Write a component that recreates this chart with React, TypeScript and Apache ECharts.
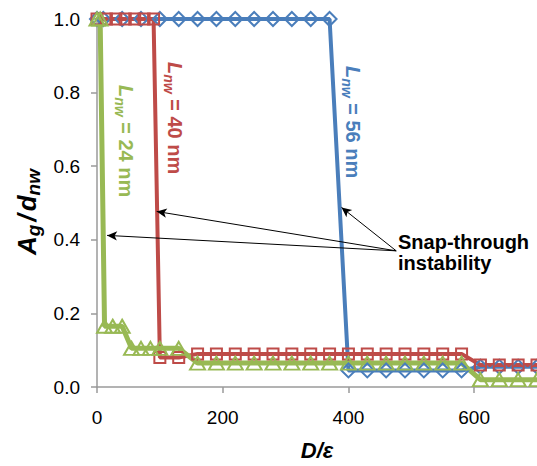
import React, { useEffect, useRef } from "react";
import * as echarts from "echarts";

// ---- data ----
const blueX = [0, 10, 40, 70, 100, 130, 160, 190, 220, 250, 280, 310, 340, 370, 400, 430, 460, 490, 520, 550, 580, 610, 640, 670, 700];
const blueY = [1, 1, 1, 1, 1, 1, 1, 1, 1, 1, 1, 1, 1, 1, 0.045, 0.045, 0.045, 0.045, 0.045, 0.045, 0.045, 0.055, 0.055, 0.055, 0.055];

const redX = [0, 15, 30, 45, 60, 75, 90, 100, 130, 160, 190, 220, 250, 280, 310, 340, 370, 400, 430, 460, 490, 520, 550, 580, 610, 640, 670, 700];
const redY = [1, 1, 1, 1, 1, 1, 1, 0.08, 0.08, 0.09, 0.09, 0.09, 0.09, 0.09, 0.09, 0.09, 0.09, 0.09, 0.09, 0.09, 0.09, 0.09, 0.09, 0.09, 0.06, 0.06, 0.06, 0.06];

const greenX = [0, 5, 12, 25, 40, 55, 70, 85, 100, 130, 160, 190, 220, 250, 280, 310, 340, 370, 400, 430, 460, 490, 520, 550, 580, 610, 640, 670, 700];
const greenY = [1, 1, 0.165, 0.165, 0.165, 0.105, 0.105, 0.105, 0.105, 0.105, 0.065, 0.065, 0.065, 0.065, 0.065, 0.065, 0.065, 0.065, 0.065, 0.065, 0.065, 0.065, 0.065, 0.065, 0.065, 0.02, 0.02, 0.02, 0.02];

const xTicks = [0, 200, 400, 600];
const yTicks = [0, 0.2, 0.4, 0.6, 0.8, 1.0];

// arrow annotations (data coordinates)
const arrowFrom = [476, 0.37];
const arrowTo = [
  [16, 0.412],
  [95, 0.477],
  [389, 0.488],
];

const seriesNames = ["Lnw = 56 nm", "Lnw = 40 nm", "Lnw = 24 nm"];
const annoNumbers = ["56", "40", "24"];

const BLUE = "#4A7EBB";
const RED = "#BE4B48";
const GREEN = "#98B954";
const FONT = '"Liberation Sans", Arial, Helvetica, sans-serif';

function zip(xs: number[], ys: number[]) {
  return xs.map((x, i) => [x, ys[i]]);
}

function annoRich(color: string) {
  return {
    l: { fontSize: 20, fontWeight: "bold", fontStyle: "italic", fill: color, fontFamily: FONT, verticalAlign: "top", lineHeight: 22 },
    s: { fontSize: 14, fontWeight: "bold", fontStyle: "italic", fill: color, fontFamily: FONT, verticalAlign: "top", lineHeight: 15, padding: [9, 0, 0, 0] },
    n: { fontSize: 20, fontWeight: "bold", fill: color, fontFamily: FONT, verticalAlign: "top", lineHeight: 22 },
  };
}

function annoText(num: string, color: string, x: number, y: number) {
  return {
    type: "text",
    x,
    y,
    rotation: -Math.PI / 2,
    silent: true,
    style: {
      text: `{l|L}{s|nw}{n| = ${num} nm}`,
      rich: annoRich(color),
      fill: color,
      align: "left",
      verticalAlign: "top",
      fontFamily: FONT,
    },
  };
}

export default function App() {
  const ref = useRef<HTMLDivElement>(null);

  useEffect(() => {
    document.body.style.margin = "0";
    if (!ref.current) return;
    const chart = echarts.init(ref.current, undefined, { renderer: "svg" });

    const axisColor = "#9a9a9a";

    const option: any = {
      animation: false,
      backgroundColor: "#ffffff",
      grid: { left: 97, right: 0, top: 19, bottom: 78, containLabel: false },
      xAxis: {
        type: "value",
        min: 0,
        max: 700,
        interval: 200,
        name: "{i|D}{i|/}{i|ε}",
        nameLocation: "middle",
        nameGap: 52,
        nameTextStyle: {
          rich: {
            i: { fontSize: 22, fontWeight: "bold", fontStyle: "italic", color: "#000", fontFamily: FONT },
          },
        },
        axisLine: { show: true, lineStyle: { color: axisColor, width: 1.5 } },
        axisTick: { show: true, inside: false, length: 6, lineStyle: { color: axisColor, width: 1.5 } },
        splitLine: { show: false },
        axisLabel: {
          show: true,
          color: "#000",
          fontSize: 19,
          fontFamily: FONT,
          margin: 21,
          showMaxLabel: false,
          formatter: (v: number) => (xTicks.includes(v) ? String(v) : ""),
        },
      },
      yAxis: {
        type: "value",
        min: 0,
        max: 1,
        interval: 0.2,
        name: "{i|A}{si|g}{n|/}{i|d}{si|nw}",
        nameLocation: "middle",
        nameRotate: 90,
        nameGap: 49,
        nameTextStyle: {
          padding: [0, 18, 0, 0],
          rich: {
            i: { fontSize: 26, fontWeight: "bold", fontStyle: "italic", color: "#000", fontFamily: FONT, verticalAlign: "top", lineHeight: 28 },
            n: { fontSize: 26, fontWeight: "bold", fontStyle: "italic", color: "#000", fontFamily: FONT, verticalAlign: "top", lineHeight: 28, padding: [0, 3, 0, 3] },
            si: { fontSize: 19, fontWeight: "bold", fontStyle: "italic", color: "#000", fontFamily: FONT, verticalAlign: "top", lineHeight: 20, padding: [10, 0, 0, 0] },
          },
        },
        axisLine: { show: true, lineStyle: { color: axisColor, width: 1.5 } },
        axisTick: { show: true, inside: false, length: 6, lineStyle: { color: axisColor, width: 1.5 } },
        splitLine: { show: false },
        axisLabel: {
          color: "#000",
          fontSize: 19,
          fontFamily: FONT,
          margin: 17,
          formatter: (v: number) => (yTicks.some((t) => Math.abs(t - v) < 1e-9) ? v.toFixed(1) : ""),
        },
      },
      series: [
        {
          name: seriesNames[0],
          type: "line",
          data: zip(blueX, blueY),
          symbol: "diamond",
          symbolSize: 14,
          showAllSymbol: true,
          clip: false,
          lineStyle: { color: BLUE, width: 4 },
          itemStyle: { color: "rgba(255,255,255,0)", borderColor: BLUE, borderWidth: 2 },
          markLine: {
            silent: true,
            symbol: ["none", "arrow"],
            symbolSize: [7, 10],
            label: { show: false },
            lineStyle: { color: "#000", width: 1, type: "solid" },
            data: arrowTo.map((t) => [{ coord: arrowFrom }, { coord: t }]),
          },
        },
        {
          name: seriesNames[1],
          type: "line",
          data: zip(redX, redY),
          symbol: "rect",
          symbolSize: 11,
          showAllSymbol: true,
          clip: false,
          lineStyle: { color: RED, width: 4 },
          itemStyle: { color: "rgba(255,255,255,0)", borderColor: RED, borderWidth: 2 },
        },
        {
          name: seriesNames[2],
          type: "line",
          data: zip(greenX, greenY),
          symbol: "triangle",
          symbolSize: [15, 13],
          showAllSymbol: true,
          clip: false,
          lineStyle: { color: GREEN, width: 5 },
          itemStyle: { color: "rgba(255,255,255,0)", borderColor: GREEN, borderWidth: 2 },
        },
      ],
      graphic: [
        annoText(annoNumbers[2], GREEN, 136, 85),
        annoText(annoNumbers[1], RED, 185, 62),
        annoText(annoNumbers[0], BLUE, 363, 66),
        {
          type: "text",
          x: 398,
          y: 231,
          silent: true,
          style: {
            text: "Snap-through\ninstability",
            fill: "#000",
            fontSize: 20,
            fontWeight: "bold",
            fontFamily: FONT,
            lineHeight: 21,
          },
        },
      ],
    };

    chart.setOption(option);
    return () => chart.dispose();
  }, []);

  return <div ref={ref} style={{ width: 537, height: 466 }} />;
}
